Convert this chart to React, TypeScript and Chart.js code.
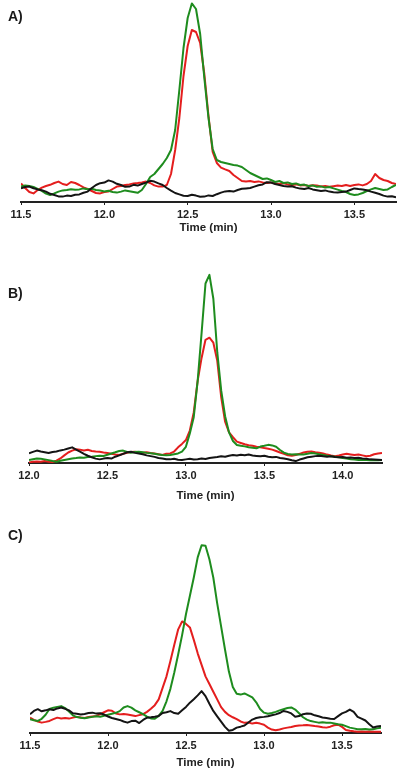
import React, { useEffect, useRef } from "react";
import { Chart, registerables } from "chart.js";

Chart.register(...registerables);

// ---------- data ----------
const TIME_STEP = 0.025;

const A_START = 11.5;
const A_END = 13.75;
const A_TICKS = [11.5, 12.0, 12.5, 13.0, 13.5];

const B_START = 12.0;
const B_END = 14.25;
const B_TICKS = [12.0, 12.5, 13.0, 13.5, 14.0];

const C_START = 11.5;
const C_END = 13.75;
const C_TICKS = [11.5, 12.0, 12.5, 13.0, 13.5];

const A_BLACK = [
  6.8, 7.5, 7.7, 6.9, 6.3, 5.9, 5.2, 4.1, 3.5, 2.8,
  2.7, 3.2, 3.0, 3.6, 3.8, 4.6, 5.2, 7.0, 8.5, 9.4,
  9.7, 10.8, 10.2, 9.1, 8.5, 7.6, 7.7, 8.6, 8.2, 9.0,
  9.7, 10.6, 10.2, 9.3, 8.5, 7.0, 5.7, 4.5, 3.8, 3.1,
  3.0, 3.6, 3.2, 2.6, 2.7, 3.3, 3.0, 3.9, 4.7, 5.3,
  5.5, 5.2, 6.0, 6.6, 6.8, 7.0, 7.7, 8.4, 8.8, 9.9,
  9.7, 9.0, 8.5, 8.0, 7.7, 7.9, 7.2, 6.7, 6.5, 7.0,
  6.3, 5.9, 5.5, 5.8, 5.2, 4.9, 4.7, 5.0, 5.2, 6.0,
  6.8, 6.5, 6.3, 5.9, 5.2, 4.6, 4.0, 3.2, 2.7, 2.9,
  2.3,
];
const A_RED = [
  9.3, 7.0, 5.0, 4.3, 6.0, 7.2, 8.0, 8.6, 9.5, 10.2,
  9.0, 8.5, 10.0, 9.5, 8.5, 7.3, 6.5, 5.5, 4.5, 4.3,
  5.0, 5.3, 6.5, 7.7, 8.0, 8.5, 8.8, 9.3, 9.5, 9.8,
  10.2, 9.5, 8.3, 7.7, 7.7, 8.5, 14.0, 26.0, 42.0, 63.0,
  78.0, 86.0, 85.0, 79.5, 64.0, 43.0, 25.0, 19.5, 17.2, 16.3,
  15.5, 13.5, 12.0, 10.5, 10.2, 10.5, 10.0, 10.3, 9.8, 9.5,
  9.8, 9.2, 9.0, 9.4, 8.8, 8.5, 8.8, 8.3, 8.5, 8.0,
  8.4, 8.2, 7.8, 8.0, 7.6, 7.9, 8.2, 8.0, 8.5, 8.0,
  8.5, 8.8, 8.3, 9.0, 10.5, 14.0, 12.0, 11.0, 10.5, 9.5,
  9.0,
];
const A_GREEN = [
  7.7, 8.3, 8.0, 7.5, 6.6, 5.6, 4.2, 3.5, 4.3, 5.2,
  5.8, 6.0, 6.4, 6.1, 6.3, 6.8, 6.4, 6.6, 6.0, 5.7,
  5.3, 5.6, 5.0, 4.7, 5.2, 5.8, 5.4, 5.0, 4.6, 6.0,
  9.0, 12.5, 14.0, 16.5, 19.0, 22.0, 26.0, 36.0, 56.0, 77.0,
  92.0, 99.3, 96.5, 84.0, 62.0, 42.0, 26.5, 21.0, 20.0, 19.5,
  19.0, 18.5, 18.2, 17.5, 16.0, 14.5, 13.5, 12.5, 11.5, 11.8,
  11.0, 10.0, 10.5, 9.5, 9.8, 9.0, 9.3, 8.5, 8.7, 8.0,
  8.3, 7.6, 7.8, 7.2, 7.5, 6.8, 6.2, 5.5, 5.0, 4.0,
  3.5, 3.8, 4.5, 5.5, 6.3, 7.0, 6.5, 6.0, 6.3, 7.5,
  8.5,
];

const B_BLACK = [
  5.1, 5.8, 6.5, 6.0, 5.6, 5.2, 5.8, 6.0, 6.6, 7.0,
  7.6, 8.2, 7.0, 5.9, 4.8, 3.8, 3.0, 2.3, 1.9, 2.3,
  2.6, 2.3, 3.3, 4.0, 4.8, 5.6, 5.9, 5.3, 5.0, 4.6,
  4.0, 3.6, 3.2, 2.6, 2.4, 2.0, 1.9, 2.2, 1.7, 1.6,
  1.9, 2.2, 1.8, 2.0, 2.3, 2.1, 2.6, 2.9, 3.1, 3.5,
  3.3, 3.8, 4.2, 3.9, 4.3, 4.1, 4.4, 3.9, 3.7, 3.5,
  3.8, 3.3, 3.0, 3.2, 2.6, 2.3, 2.0, 1.4, 1.0, 1.8,
  2.4, 3.0, 3.3, 3.6, 3.8, 3.5, 3.3, 3.5, 3.2, 3.0,
  3.1, 2.8, 2.9, 2.6, 2.7, 2.4, 2.2, 1.9, 1.8, 1.7,
  1.6,
];
const B_RED = [
  0.3, 0.6, 0.8, 0.6, 1.0, 0.7, 0.5, 1.2, 2.4, 4.0,
  5.5, 6.5, 7.2, 7.0, 6.6, 6.9, 6.3, 6.0, 5.9, 5.5,
  5.2, 4.8, 4.4, 4.2, 4.8, 5.4, 5.7, 5.9, 5.6, 5.4,
  5.6, 5.2, 5.0, 4.6, 4.2, 4.8, 5.0, 6.0, 8.2, 10.0,
  12.0, 17.0, 26.5, 43.0, 55.0, 64.5, 65.6, 63.0, 53.5, 34.5,
  21.6, 16.0, 13.5, 11.2, 10.5, 9.8, 9.3, 9.0, 8.5, 8.2,
  7.8, 7.5, 7.0, 6.3, 5.5, 4.8, 4.0, 3.8, 4.2, 4.8,
  5.5, 5.9, 6.0, 5.6, 5.4, 5.0, 4.4, 3.9, 3.6, 3.9,
  4.4, 4.8, 4.5, 4.2, 4.5, 4.0, 3.5, 3.8, 4.6, 5.0,
  5.2,
];
const B_GREEN = [
  1.6, 2.0, 2.4, 2.2, 1.9, 1.5, 1.0, 0.7, 1.2, 1.6,
  2.0, 2.4, 2.6, 2.9, 2.8, 3.1, 3.3, 3.6, 3.8, 3.7,
  4.3, 5.0, 5.6, 6.3, 6.5, 5.8, 5.4, 5.7, 5.9, 5.6,
  5.3, 5.1, 4.8, 4.5, 4.2, 4.0, 4.2, 4.6, 5.0, 6.0,
  8.5, 15.5, 24.0, 43.0, 68.0, 94.0, 98.5, 86.0, 58.0, 38.0,
  24.5, 16.0, 11.5, 9.4, 9.0, 8.7, 8.3, 8.0, 7.7, 8.6,
  9.0, 9.5, 9.2, 8.5, 6.8, 5.4, 4.7, 4.5, 4.6, 4.4,
  4.5, 4.8, 5.2, 5.0, 4.6, 4.2, 3.8, 3.5, 3.3, 3.0,
  2.6, 2.3, 2.0, 1.8, 1.6, 1.7, 1.6, 1.5, 1.4, 1.5,
  1.6,
];

const C_BLACK = [
  9.8, 11.5, 12.4, 11.3, 11.8, 12.4, 12.0, 12.8, 13.3, 12.6,
  11.8, 10.3, 10.0, 9.6, 9.9, 10.4, 10.6, 10.1, 10.3, 9.6,
  8.6, 7.8, 7.3, 6.8, 6.0, 5.4, 6.2, 6.4, 5.2, 6.8,
  8.0, 8.2, 8.5, 8.9, 10.4, 10.8, 11.4, 10.4, 10.0, 11.8,
  13.6, 15.8, 17.6, 19.6, 21.8, 19.2, 15.2, 11.5, 8.7, 5.9,
  3.2, 1.2, 1.6, 2.8, 3.3, 3.9, 5.5, 7.0, 7.8, 8.2,
  8.4, 8.7, 9.2, 9.7, 10.4, 11.5, 11.0, 10.2, 8.5, 8.8,
  9.8, 10.2, 10.0, 9.2, 8.7, 8.1, 7.8, 7.4, 7.3, 8.8,
  10.2, 11.0, 12.2, 11.0, 8.4, 7.5, 6.5, 4.6, 2.9, 3.4,
  3.7,
];
const C_RED = [
  8.0, 6.8, 6.0, 5.4, 5.8, 6.3, 7.2, 8.0, 7.6, 7.8,
  7.5, 8.0, 8.4, 8.1, 7.8, 8.3, 8.6, 8.9, 9.8, 10.8,
  11.8, 11.6, 10.2, 9.7, 9.9, 9.6, 9.2, 8.8, 9.3, 9.8,
  11.0, 12.6, 14.5, 17.5, 23.5, 29.5, 37.5, 46.0, 54.0, 58.1,
  56.8, 55.0, 48.5, 41.5, 35.5, 29.5, 25.5, 21.5, 17.5, 13.5,
  11.0, 9.3, 8.2, 7.2, 6.0, 5.3, 5.5, 4.9, 5.3, 4.9,
  4.3, 2.8, 1.8, 1.4, 1.8, 2.4, 2.8, 3.1, 3.6, 3.9,
  4.0, 4.2, 3.9, 3.6, 3.4, 3.0, 2.8, 3.3, 4.0, 4.3,
  3.2, 1.6, 1.2, 0.9, 0.7, 0.8, 0.6, 0.8, 0.7, 0.6,
  0.7,
];
const C_GREEN = [
  7.2, 6.6, 6.3, 7.4, 9.5, 12.5, 13.2, 13.6, 14.0, 13.0,
  11.2, 9.2, 8.3, 7.9, 7.7, 8.1, 8.4, 8.7, 8.5, 9.0,
  9.5, 10.0, 10.5, 11.4, 13.3, 14.0, 13.2, 11.8, 10.8, 9.8,
  8.5, 7.6, 7.4, 8.9, 11.5, 16.5, 23.0, 31.5, 41.0, 51.0,
  62.0, 71.5, 81.0, 91.5, 97.8, 97.5, 90.5, 81.0, 67.5, 55.5,
  43.5, 32.0, 24.0, 20.4, 20.0, 20.6, 19.6, 18.5, 16.0, 12.5,
  10.6, 10.0, 10.4, 11.0, 11.8, 12.4, 13.0, 13.3, 12.2, 10.3,
  8.2, 7.0, 6.2, 5.8, 5.4, 5.6, 5.3, 5.4, 5.0, 4.6,
  4.3, 3.6, 2.8, 2.4, 2.0, 1.9, 2.1, 1.8, 1.9, 2.4,
  2.8,
];

const X_TITLE = "Time (min)";
const PANEL_LABELS = ["A)", "B)", "C)"];

// ---------- styles ----------
const COLORS = { black: "#141414", green: "#1e8c1e", red: "#e41e1e" };
const FONT_FAMILY = "'Liberation Sans', Arial, Helvetica, sans-serif";

type PanelProps = {
  start: number;
  min: number;
  max: number;
  ticks: number[];
  black: number[];
  green: number[];
  red: number[];
  layout: {
    top: number;
    height: number;
    padLeft: number;
    padRight: number;
    padTop: number;
    axisHeight: number;
  };
};

function Panel({ start, min, max, ticks, black, green, red, layout }: PanelProps) {
  const ref = useRef<HTMLCanvasElement | null>(null);

  useEffect(() => {
    if (!ref.current) return;
    const toPoints = (vals: number[]) =>
      vals.map((y, i) => ({ x: start + i * TIME_STEP, y }));
    const ds = (vals: number[], color: string) => ({
      data: toPoints(vals),
      borderColor: color,
      backgroundColor: color,
      borderWidth: 2,
      pointRadius: 0,
      tension: 0,
      fill: false,
      borderJoinStyle: "round" as const,
    });
    const chart = new Chart(ref.current, {
      type: "line",
      data: {
        datasets: [ds(black, COLORS.black), ds(green, COLORS.green), ds(red, COLORS.red)],
      },
      options: {
        animation: false,
        responsive: false,
        maintainAspectRatio: false,
        layout: {
          padding: { left: layout.padLeft, right: layout.padRight, top: layout.padTop, bottom: 0 },
        },
        plugins: { legend: { display: false }, tooltip: { enabled: false } },
        scales: {
          x: {
            type: "linear",
            min,
            max,
            afterBuildTicks: (scale: any) => {
              scale.ticks = ticks.map((v) => ({ value: v }));
            },
            afterFit: (scale: any) => {
              scale.height = layout.axisHeight;
            },
            grid: {
              display: true,
              drawOnChartArea: false,
              drawTicks: true,
              tickLength: 3,
              color: "#222",
              lineWidth: 1,
            },
            border: { display: true, color: "#222", width: 2 },
            ticks: {
              padding: 3,
              color: "#222",
              autoSkip: false,
              maxRotation: 0,
              font: { family: FONT_FAMILY, size: 11, weight: "bold" },
              callback: (v: any) => Number(v).toFixed(1),
            },
            title: {
              display: true,
              text: X_TITLE,
              color: "#222",
              padding: { top: 0, bottom: 0 },
              font: { family: FONT_FAMILY, size: 11.5, weight: "bold" },
            },
          },
          y: { display: false, min: 0, max: 100 },
        },
      },
    });
    return () => chart.destroy();
  }, []);

  return (
    <canvas
      ref={ref}
      width={400}
      height={layout.height}
      style={{ position: "absolute", left: 0, top: layout.top, width: 400, height: layout.height, display: "block" }}
    />
  );
}

const LAYOUTS = [
  { top: 0, height: 235, padLeft: 21, padRight: 4, padTop: 2, axisHeight: 33 },
  { top: 250, height: 253, padLeft: 29, padRight: 18, padTop: 22, axisHeight: 40 },
  { top: 515, height: 255, padLeft: 30, padRight: 19, padTop: 26, axisHeight: 37 },
];
const LABEL_CENTERS = [16, 293, 535];

export default function App() {
  return (
    <div style={{ position: "absolute", left: 0, top: 0, width: 400, height: 777, background: "#fff", overflow: "hidden" }}>
      <Panel start={A_START} min={A_START} max={A_END} ticks={A_TICKS} black={A_BLACK} green={A_GREEN} red={A_RED} layout={LAYOUTS[0]} />
      <Panel start={B_START} min={B_START} max={B_END} ticks={B_TICKS} black={B_BLACK} green={B_GREEN} red={B_RED} layout={LAYOUTS[1]} />
      <Panel start={C_START} min={C_START} max={C_END} ticks={C_TICKS} black={C_BLACK} green={C_GREEN} red={C_RED} layout={LAYOUTS[2]} />
      {PANEL_LABELS.map((t, i) => (
        <div
          key={t}
          style={{
            position: "absolute",
            left: 8,
            top: LABEL_CENTERS[i] - 8,
            height: 16,
            lineHeight: "16px",
            fontFamily: FONT_FAMILY,
            fontWeight: "bold",
            fontSize: 14,
            color: "#1a1a1a",
          }}
        >
          {t}
        </div>
      ))}
    </div>
  );
}
